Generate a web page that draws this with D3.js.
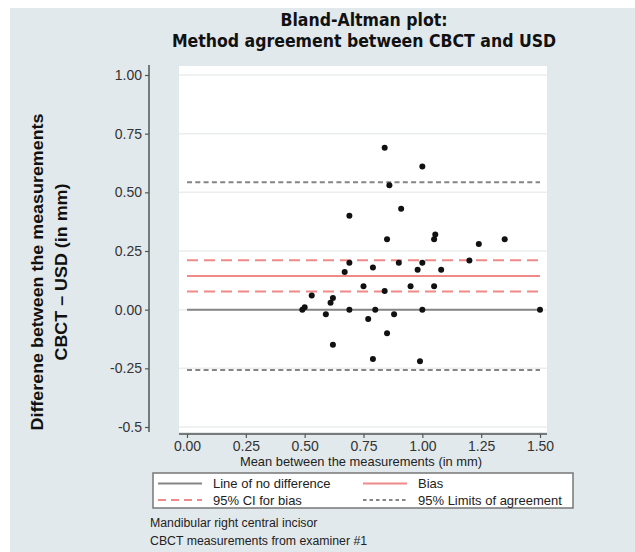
<!DOCTYPE html>
<html>
<head>
<meta charset="utf-8">
<script src="https://cdn.jsdelivr.net/npm/d3@7"></script>
<style>
  html, body { margin: 0; padding: 0; background: #ffffff; }
  svg { display: block; }
</style>
</head>
<body>
<svg id="chart" width="635" height="552"></svg>
<script>
// Mean of the two methods (x) and CBCT - USD difference (y), in mm
const meanVals = [0.49, 0.50, 0.53, 0.59, 0.61, 0.62, 0.62, 0.67, 0.69, 0.69, 0.69, 0.75, 0.77,
  0.79, 0.80, 0.79, 0.84, 0.85, 0.84, 0.85, 0.86, 1.00, 0.91, 1.05, 1.055, 1.24, 1.35, 1.20,
  0.90, 0.98, 1.00, 1.08, 0.95, 1.05, 1.00, 1.50, 0.88, 0.99];
const diffVals = [0.00, 0.01, 0.06, -0.02, 0.03, 0.05, -0.15, 0.16, 0.20, 0.00, 0.40, 0.10, -0.04,
  0.18, 0.00, -0.21, 0.08, -0.10, 0.69, 0.30, 0.53, 0.61, 0.43, 0.30, 0.32, 0.28, 0.30, 0.21,
  0.20, 0.17, 0.20, 0.17, 0.10, 0.10, 0.00, 0.00, -0.02, -0.22];

// Agreement statistics
const noDiff = 0;
const bias = 0.143;
const ciBias = [0.077, 0.211];
const limitsOfAgreement = [-0.257, 0.543];

// Axis ticks
const xTicks = [0, 0.25, 0.5, 0.75, 1.0, 1.25, 1.5];
const xTickLabels = ["0.00", "0.25", "0.50", "0.75", "1.00", "1.25", "1.50"];
const yTicks = [-0.5, -0.25, 0, 0.25, 0.5, 0.75, 1.0];
const yTickLabels = ["-0.5", "-0.25", "0.00", "0.25", "0.50", "0.75", "1.00"];

// Legend entries
const legendLabels = ["Line of no difference", "Bias", "95% CI for bias", "95% Limits of agreement"];

const titleLines = ["Bland-Altman plot:", "Method agreement between CBCT and USD"];
const yTitleLines = ["Differene  between the measurements", "CBCT \u2013 USD (in mm)"];
const xTitle = "Mean between the measurements (in mm)";
const noteLines = ["Mandibular right central incisor", "CBCT measurements from examiner #1"];

const svg = d3.select("#chart");
const W = 635, H = 552;
const FONT = "'Liberation Sans', Arial, Helvetica, sans-serif";
const NARROW = "'Liberation Sans Narrow', 'Arial Narrow', 'DejaVu Sans Condensed', 'Liberation Sans', sans-serif";

const bg = "#e2e9ec";
const red = "#f08a8a";
const grayLine = "#858585";

// outer background
svg.append("rect").attr("width", W).attr("height", H).attr("fill", bg);
svg.append("rect").attr("x", 0).attr("y", 0).attr("width", W).attr("height", 8).attr("fill", "#ffffff");
svg.append("rect").attr("x", 0).attr("y", 0).attr("width", 10).attr("height", H).attr("fill", "#ffffff");

// plot region
const region = { left: 179, right: 547, top: 66, bottom: 432 };
const x = d3.scaleLinear().domain([0, 1.5]).range([187, 540]);
const y = d3.scaleLinear().domain([-0.5, 1.0]).range([427, 75]);

svg.append("rect")
  .attr("x", region.left).attr("y", region.top)
  .attr("width", region.right - region.left)
  .attr("height", region.bottom - region.top)
  .attr("fill", "#ffffff");

// faint gridlines
svg.append("g").selectAll("line").data(yTicks).join("line")
  .attr("x1", region.left).attr("x2", region.right)
  .attr("y1", d => y(d)).attr("y2", d => y(d))
  .attr("stroke", "#eaeeef").attr("stroke-width", 1.5);

// y axis, offset to the left of the plot region
const yAxis = d3.axisLeft(y).tickValues(yTicks)
  .tickFormat((d, i) => yTickLabels[i]).tickSize(4).tickPadding(3);
const gy = svg.append("g").attr("transform", "translate(149,0)").call(yAxis);
gy.select(".domain").remove();
gy.append("line").attr("x1", 0).attr("x2", 0)
  .attr("y1", region.top - 1).attr("y2", region.bottom)
  .attr("stroke", "#555").attr("stroke-width", 1.5);
gy.selectAll(".tick line").attr("stroke", "#555").attr("stroke-width", 1.2);
gy.selectAll(".tick text").attr("font-family", FONT).attr("font-size", 14).attr("fill", "#333");

// x axis, offset below the plot region
const xAxis = d3.axisBottom(x).tickValues(xTicks)
  .tickFormat((d, i) => xTickLabels[i]).tickSize(4).tickPadding(3);
const gx = svg.append("g").attr("transform", "translate(0,434)").call(xAxis);
gx.select(".domain").remove();
gx.append("line").attr("x1", region.left).attr("x2", region.right)
  .attr("y1", 0).attr("y2", 0)
  .attr("stroke", "#555").attr("stroke-width", 1.5);
gx.selectAll(".tick line").attr("stroke", "#555").attr("stroke-width", 1.2);
gx.selectAll(".tick text").attr("font-family", FONT).attr("font-size", 14).attr("fill", "#333");

// reference lines
const refLines = [
  { v: noDiff, color: grayLine, dash: null, w: 2 },
  { v: bias, color: red, dash: null, w: 2 },
  { v: ciBias[0], color: red, dash: "11,6", w: 2 },
  { v: ciBias[1], color: red, dash: "11,6", w: 2 },
  { v: limitsOfAgreement[0], color: grayLine, dash: "5,3.3", w: 2 },
  { v: limitsOfAgreement[1], color: grayLine, dash: "5,3.3", w: 2 }
];
svg.append("g").selectAll("line").data(refLines).join("line")
  .attr("x1", x(0)).attr("x2", x(1.5))
  .attr("y1", d => y(d.v)).attr("y2", d => y(d.v))
  .attr("stroke", d => d.color)
  .attr("stroke-width", d => d.w)
  .attr("stroke-dasharray", d => d.dash);

// scatter points
svg.append("g").selectAll("circle").data(meanVals).join("circle")
  .attr("cx", d => x(d))
  .attr("cy", (d, i) => y(diffVals[i]))
  .attr("r", 3)
  .attr("fill", "#111");

// titles
svg.append("g").selectAll("text").data(titleLines).join("text")
  .attr("x", 364).attr("y", (d, i) => 26 + i * 21)
  .attr("text-anchor", "middle")
  .attr("font-family", NARROW).attr("font-weight", "bold").attr("font-size", 17.5)
  .attr("fill", "#111")
  .text(d => d);

const yTitleLengths = [317, 177];
svg.append("g").selectAll("text").data(yTitleLines).join("text")
  .attr("transform", (d, i) => `translate(${43 + i * 24},272) rotate(-90)`)
  .attr("text-anchor", "middle")
  .attr("font-family", FONT).attr("font-weight", "bold").attr("font-size", 16.5)
  .attr("textLength", (d, i) => yTitleLengths[i])
  .attr("lengthAdjust", "spacingAndGlyphs")
  .attr("fill", "#111")
  .text(d => d);

svg.append("text")
  .attr("x", 361).attr("y", 466)
  .attr("text-anchor", "middle")
  .attr("font-family", FONT).attr("font-size", 12.9).attr("fill", "#222")
  .text(xTitle);

// legend
const lg = svg.append("g");
lg.append("rect").attr("x", 153).attr("y", 473).attr("width", 420).attr("height", 35)
  .attr("fill", "#ffffff").attr("stroke", "#777").attr("stroke-width", 1.5);
const legendItems = [
  { label: legendLabels[0], color: grayLine, dash: null, col: 0, row: 0 },
  { label: legendLabels[1], color: red, dash: null, col: 1, row: 0 },
  { label: legendLabels[2], color: red, dash: "8,5", col: 0, row: 1 },
  { label: legendLabels[3], color: grayLine, dash: "3.5,3", col: 1, row: 1 }
];
const colX = [158, 363];
const rowY = [483.5, 500];
legendItems.forEach(it => {
  lg.append("line")
    .attr("x1", colX[it.col]).attr("x2", colX[it.col] + 44)
    .attr("y1", rowY[it.row]).attr("y2", rowY[it.row])
    .attr("stroke", it.color).attr("stroke-width", 2)
    .attr("stroke-dasharray", it.dash);
  lg.append("text")
    .attr("x", colX[it.col] + 55).attr("y", rowY[it.row] + 4.5)
    .attr("font-family", FONT).attr("font-size", 13).attr("fill", "#222")
    .text(it.label);
});

// note
svg.append("g").selectAll("text").data(noteLines).join("text")
  .attr("x", 150).attr("y", (d, i) => 527 + i * 18)
  .attr("font-family", FONT).attr("font-size", 12.3).attr("fill", "#222")
  .text(d => d);
</script>
</body>
</html>
